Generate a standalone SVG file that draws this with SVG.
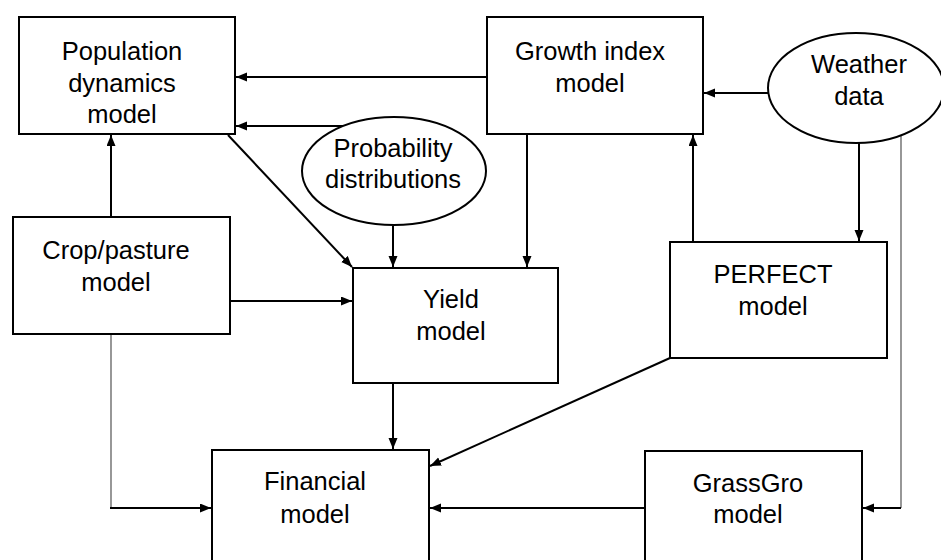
<svg xmlns="http://www.w3.org/2000/svg" width="941" height="560" viewBox="0 0 941 560">
<style>
.box{fill:#fff;stroke:#000;stroke-width:2}
.lbl{font-family:"Liberation Sans",Arial,sans-serif;font-size:25.5px;fill:#000;text-anchor:middle}
.c{fill:none;stroke:#000;stroke-width:2}
.g{fill:none;stroke:#606060;stroke-width:1.3}
</style>
<defs>
<marker id="ah" markerUnits="userSpaceOnUse" markerWidth="12" markerHeight="10" refX="11" refY="4.5" orient="auto">
<path d="M0,0 L11,4.5 L0,9 z" fill="#000"/>
</marker>
</defs>
<rect width="941" height="560" fill="#fff"/>
<g id="connectors">
<line class="c" x1="487" y1="77" x2="236" y2="77" marker-end="url(#ah)"/>
<line class="c" x1="345" y1="126" x2="236" y2="126" marker-end="url(#ah)"/>
<line class="c" x1="768" y1="93" x2="704" y2="93" marker-end="url(#ah)"/>
<line class="c" x1="859" y1="143" x2="859" y2="241" marker-end="url(#ah)"/>
<line class="g" x1="901" y1="135" x2="901" y2="508"/>
<line class="c" x1="901" y1="508" x2="863" y2="508" marker-end="url(#ah)"/>
<line class="c" x1="111" y1="217" x2="111" y2="135" marker-end="url(#ah)"/>
<line class="g" x1="111" y1="334" x2="111" y2="508"/>
<line class="c" x1="110" y1="508" x2="211" y2="508" marker-end="url(#ah)"/>
<line class="c" x1="227" y1="301" x2="352" y2="301" marker-end="url(#ah)"/>
<line class="c" x1="228" y1="135" x2="352" y2="267" marker-end="url(#ah)"/>
<line class="c" x1="527" y1="134" x2="527" y2="267" marker-end="url(#ah)"/>
<line class="c" x1="393" y1="226" x2="393" y2="267" marker-end="url(#ah)"/>
<line class="c" x1="693" y1="242" x2="693" y2="135" marker-end="url(#ah)"/>
<line class="c" x1="393" y1="383" x2="393" y2="449" marker-end="url(#ah)"/>
<line class="c" x1="670" y1="358" x2="430" y2="466" marker-end="url(#ah)"/>
<line class="c" x1="645" y1="508" x2="430" y2="508" marker-end="url(#ah)"/>
</g>
<g id="population">
<rect class="box" x="19" y="17" width="216" height="117"/>
<text class="lbl" x="122" y="60">Population</text>
<text class="lbl" x="122" y="92">dynamics</text>
<text class="lbl" x="122" y="123">model</text>
</g>
<g id="growth">
<rect class="box" x="487" y="17" width="216" height="117"/>
<text class="lbl" x="590" y="60">Growth index</text>
<text class="lbl" x="590" y="92">model</text>
</g>
<g id="weather">
<ellipse class="box" cx="856" cy="88" rx="88" ry="55"/>
<text class="lbl" x="859" y="73">Weather</text>
<text class="lbl" x="859" y="105">data</text>
</g>
<g id="probability">
<ellipse class="box" cx="394" cy="171" rx="92" ry="54"/>
<text class="lbl" x="393" y="157">Probability</text>
<text class="lbl" x="393" y="188">distributions</text>
</g>
<g id="crop">
<rect class="box" x="13" y="217" width="217" height="117"/>
<text class="lbl" x="116" y="259">Crop/pasture</text>
<text class="lbl" x="116" y="291">model</text>
</g>
<g id="yield">
<rect class="box" x="353" y="268" width="205" height="115"/>
<text class="lbl" x="451" y="308">Yield</text>
<text class="lbl" x="451" y="340">model</text>
</g>
<g id="perfect">
<rect class="box" x="670" y="242" width="217" height="116"/>
<text class="lbl" x="773" y="283">PERFECT</text>
<text class="lbl" x="773" y="315">model</text>
</g>
<g id="financial">
<rect class="box" x="212" y="450" width="217" height="130"/>
<text class="lbl" x="315" y="490">Financial</text>
<text class="lbl" x="315" y="523">model</text>
</g>
<g id="grassgro">
<rect class="box" x="645" y="451" width="217" height="130"/>
<text class="lbl" x="748" y="492">GrassGro</text>
<text class="lbl" x="748" y="523">model</text>
</g>
</svg>
